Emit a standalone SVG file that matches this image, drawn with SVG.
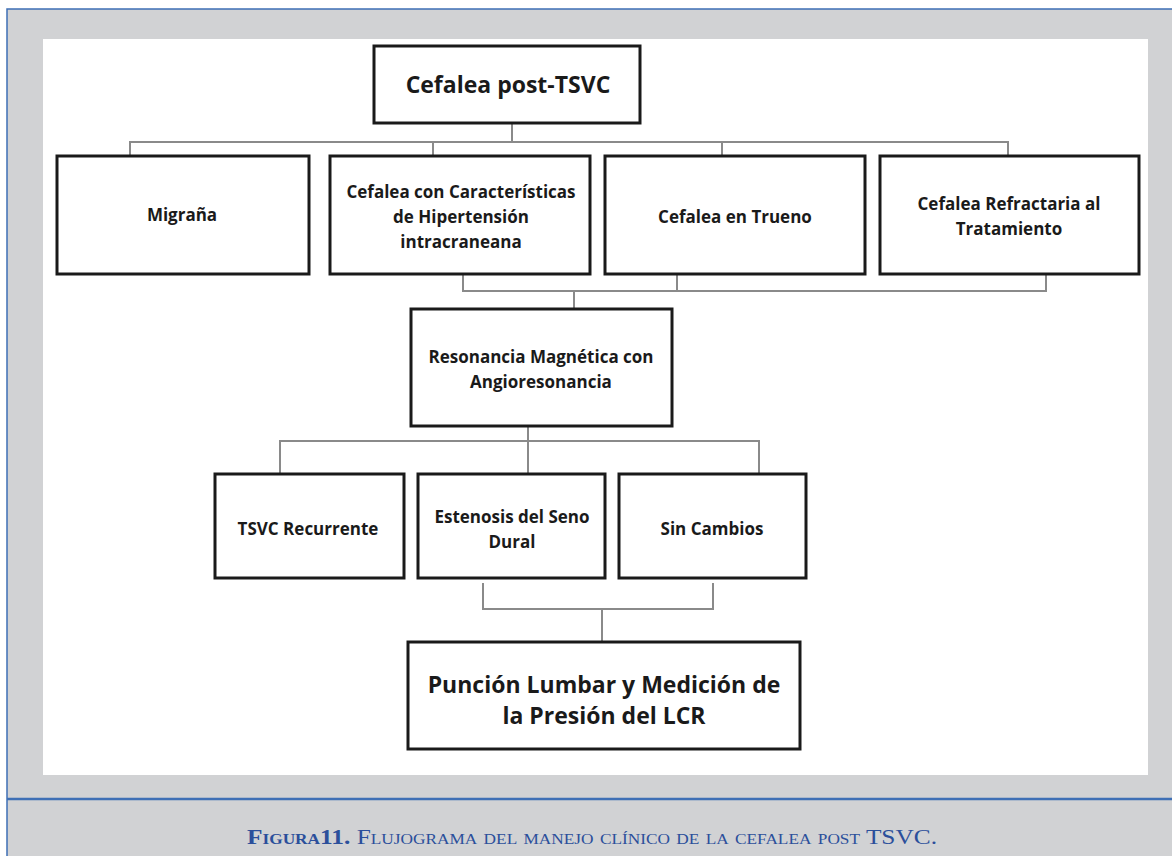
<svg xmlns="http://www.w3.org/2000/svg" width="1172" height="856" viewBox="0 0 1172 856">
<defs>
<style>
.box{fill:#fff;stroke:#1a1a1a;stroke-width:3}
.t{font-family:"Open Sans",Lato,sans-serif;font-weight:700;fill:#1a1a1a;text-anchor:middle}
.s{font-size:17px}
.b{font-size:23px}
.c{fill:none;stroke:#8a8a8a;stroke-width:2}
</style>
<marker id="arr" viewBox="0 0 12 10" refX="6" refY="9" markerWidth="12" markerHeight="10" markerUnits="userSpaceOnUse" orient="auto-start-reverse">
<path d="M1,2 L6,9 L11,2" fill="none" stroke="#8a8a8a" stroke-width="1.6"/>
</marker>
</defs>
<rect x="0" y="0" width="1172" height="856" fill="#fff"/>
<rect x="7" y="9" width="1165" height="847" fill="#d1d2d4"/>
<path d="M7,856 V9 H1172" fill="none" stroke="#3e6fb5" stroke-width="1.5"/>
<line x1="7" y1="799" x2="1172" y2="799" stroke="#3e6fb5" stroke-width="2.5"/>
<rect x="43" y="39" width="1105" height="736" fill="#fff"/>

<g id="connectors">
<path class="c" d="M512,124 V142 M130,156 V142 H1008 V156 M433,142 V156 M722,142 V156"/>
<path class="c" d="M463,275 V291 H1046 V275 M677,275 V291"/>
<path class="c" d="M574,291 V324" marker-end="url(#arr)"/>
<path class="c" d="M528,426 V441 M280,474 V441 H759 V474 M528,441 V474"/>
<path class="c" d="M483,583 V609 H713 V583 M602,609 V642"/>
</g>

<g id="n-top"><rect class="box" x="374" y="46" width="266" height="77"/><text class="t b" x="508" y="93">Cefalea post-TSVC</text></g>
<g id="n-migrana"><rect class="box" x="57" y="156" width="252" height="118"/><text class="t s" x="182" y="221">Migraña</text></g>
<g id="n-hic"><rect class="box" x="330" y="156" width="260" height="118"/><text class="t s" x="461" y="198">Cefalea con Características</text><text class="t s" x="461" y="223">de Hipertensión</text><text class="t s" x="461" y="248">intracraneana</text></g>
<g id="n-trueno"><rect class="box" x="605" y="156" width="260" height="118"/><text class="t s" x="735" y="223">Cefalea en Trueno</text></g>
<g id="n-refractaria"><rect class="box" x="880" y="156" width="259" height="118"/><text class="t s" x="1009" y="210">Cefalea Refractaria al</text><text class="t s" x="1009" y="235">Tratamiento</text></g>
<g id="n-rm"><rect class="box" x="411" y="309" width="261" height="117"/><text class="t s" x="541" y="363">Resonancia Magnética con</text><text class="t s" x="541" y="388">Angioresonancia</text></g>
<g id="n-tsvc"><rect class="box" x="215" y="474" width="189" height="104"/><text class="t s" x="308" y="535">TSVC Recurrente</text></g>
<g id="n-estenosis"><rect class="box" x="418" y="474" width="187" height="104"/><text class="t s" x="512" y="523">Estenosis del Seno</text><text class="t s" x="512" y="548">Dural</text></g>
<g id="n-sincambios"><rect class="box" x="619" y="474" width="187" height="104"/><text class="t s" x="712" y="535">Sin Cambios</text></g>
<g id="n-puncion"><rect class="box" x="408" y="642" width="392" height="107"/><text class="t b" x="604" y="693">Punción Lumbar y Medición de</text><text class="t b" x="604" y="724">la Presión del LCR</text></g>

<text x="592" y="844" text-anchor="middle" font-family="Liberation Serif,serif" font-size="22" fill="#2b4f9b" textLength="690" lengthAdjust="spacingAndGlyphs" style="font-variant:small-caps"><tspan font-weight="700">Figura11.</tspan> Flujograma del manejo clínico de la cefalea post TSVC.</text>
</svg>
